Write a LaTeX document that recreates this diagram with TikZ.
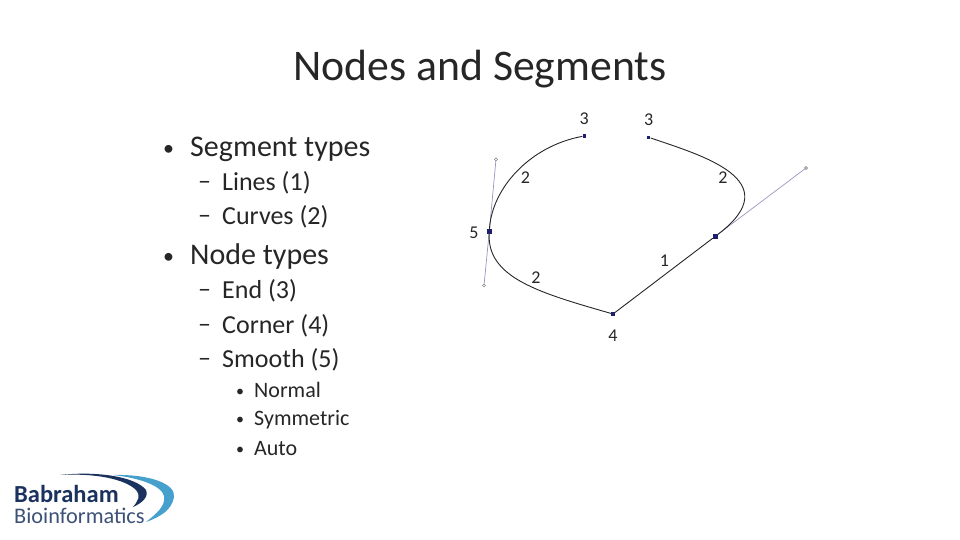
\documentclass[tikz,border=0pt]{standalone}
\usepackage{fontspec}
\setmainfont{Carlito}
\usetikzlibrary{positioning}
\definecolor{handlecol}{RGB}{150,150,195}
\definecolor{nodecol}{RGB}{30,30,110}
\definecolor{logonavy}{RGB}{27,50,95}
\definecolor{logoblue}{RGB}{70,160,205}
\newcommand{\itemmark}[3]{\makebox[#1][l]{\fontsize{#2}{#2}\selectfont\raisebox{1pt}{#3}}}
\tikzset{
  titletext/.style={font=\fontsize{43.7}{44}\selectfont,text=black!85,inner sep=0pt},
  levela/.style={font=\fontsize{30}{30}\selectfont,text=black!85,anchor=west,inner sep=0pt},
  levelb/.style={font=\fontsize{26}{26}\selectfont,text=black!85,anchor=west,inner sep=0pt},
  levelc/.style={font=\fontsize{22}{22}\selectfont,text=black!85,anchor=west,inner sep=0pt},
  anchorpt/.style={rectangle,fill=nodecol,inner sep=0pt,minimum size=3.5pt},
  smoothpt/.style={rectangle,fill=nodecol,inner sep=0pt,minimum size=4.5pt},
  handlept/.style={circle,draw=black!60,fill=white,line width=0.4pt,inner sep=0pt,minimum size=3pt},
  seglabel/.style={font=\fontsize{18}{18}\selectfont,text=black!85,inner sep=0pt},
  segment/.style={draw=black!85,line width=0.9pt},
  handle/.style={draw=handlecol,line width=0.7pt}
}

\begin{document}
\begin{tikzpicture}[x=1pt,y=-1pt]
\useasboundingbox (0,0) rectangle (960,540);
\node[titletext] (title) at (480,69) {Nodes and Segments};
% bullet text
\node[levela] (segtypes) at (163,149) {\itemmark{27pt}{22}{•}Segment types};
\node[levelb] (lines) at (198,183) {\itemmark{24pt}{26}{–}Lines (1)};
\node[levelb] (curves) at (198,217) {\itemmark{24pt}{26}{–}Curves (2)};
\node[levela] (nodetypes) at (163,256.5) {\itemmark{27pt}{22}{•}Node types};
\node[levelb] (endtype) at (198,291) {\itemmark{24pt}{26}{–}End (3)};
\node[levelb] (corner) at (198,326) {\itemmark{24pt}{26}{–}Corner (4)};
\node[levelb] (smooth) at (198,360) {\itemmark{24pt}{26}{–}Smooth (5)};
\node[levelc] (normal) at (236,390) {\itemmark{18pt}{16}{•}Normal};
\node[levelc] (symmetric) at (236,420) {\itemmark{18pt}{16}{•}Symmetric};
\node[levelc] (auto) at (236,449) {\itemmark{18pt}{16}{•}Auto};
% path nodes
\node[anchorpt] (enda) at (584.3,136) {};
\node[anchorpt] (endb) at (648.7,137.3) {};
\node[smoothpt] (smoothl) at (489.3,231.3) {};
\node[smoothpt] (smoothr) at (715.3,236.3) {};
\node[anchorpt] (cornerpt) at (613,314) {};
\node[handlept] (handlet) at (496,159.3) {};
\node[handlept] (handleb) at (484,285.3) {};
\node[handlept] (handler) at (806,168) {};
\draw[handle] (handlet) -- (smoothl) -- (handleb);
\draw[handle] (smoothr) -- (handler);
\draw[segment] (smoothl) .. controls (492,188) and (530,146) .. (enda);
\draw[segment] (endb) .. controls (700,155) and (790,180) .. (smoothr);
\draw[segment] (smoothl) .. controls (487,278) and (540,293) .. (cornerpt);
\draw[segment] (cornerpt) -- (smoothr);
% labels
\node[seglabel,above=9pt of enda] (lbla) {3};
\node[seglabel,above=10pt of endb] (lblb) {3};
\node[seglabel] (lblc) at (525.5,178) {2};
\node[seglabel] (lbld) at (723,178) {2};
\node[seglabel] (lble) at (474,233) {5};
\node[seglabel] (lblf) at (664.5,261) {1};
\node[seglabel] (lblg) at (536,278) {2};
\node[seglabel,below=14pt of cornerpt] (lblh) {4};
% logo
\fill[logoblue] (113,475) .. controls (150,474) and (176,484) .. (174,497) .. controls (172,510) and (160,517) .. (146,522) .. controls (156,514) and (166,506) .. (164,496) .. controls (162,486) and (140,478) .. (113,475) -- cycle;
\fill[logonavy] (60,475) .. controls (95,471) and (135,476) .. (146,490) .. controls (149,497) and (142,503) .. (133,507) .. controls (138,501) and (141,496) .. (136,490) .. controls (125,479) and (95,473) .. (60,475) -- cycle;
\node[font=\fontsize{24.5}{25}\selectfont\bfseries,text=logonavy,anchor=west,inner sep=0pt] (babraham) at (14,494) {Babraham};
\node[font=\fontsize{22.3}{23}\selectfont,text=logonavy!85,anchor=west,inner sep=0pt] (bioinf) at (14,516) {Bioinformatics};
\end{tikzpicture}
\end{document}
